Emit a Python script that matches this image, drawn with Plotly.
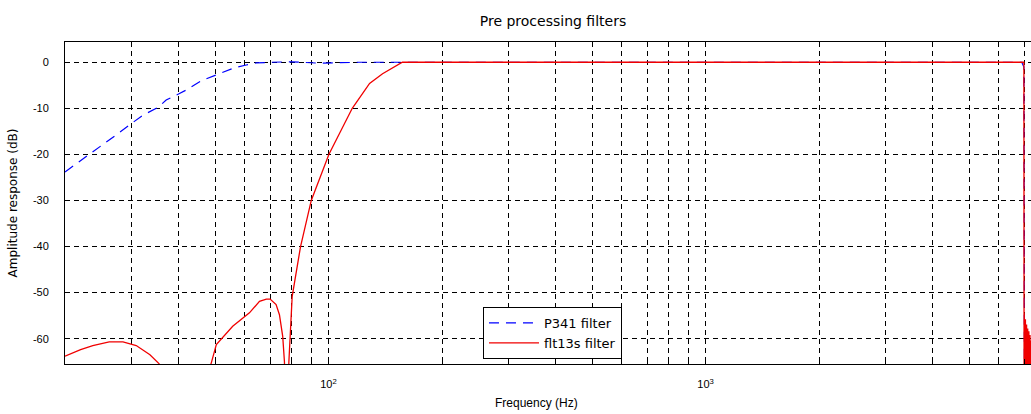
import plotly.graph_objects as go

# ---------------- data ----------------
blue_name = "P341 filter"
red_name = "flt13s filter"

blue_freq = [20, 22, 25, 27.3, 30, 32.2, 35.3, 37.1, 40, 42, 46, 49, 53.6, 56.3, 60.5, 64.3,
             70, 80, 95, 120, 200, 1000, 6900, 6990, 7000, 7020]
blue_db = [-23.8, -21.4, -18.2, -15.8, -13.3, -11.5, -9.8, -8.2, -6.9, -6.0, -4.0, -3.1, -1.9, -1.2, -0.6, -0.15,
           0.0, 0.1, -0.2, 0.0, 0.0, 0.0, 0.0, -1.0, -80.0, -90.0]

red_freq = [20, 22, 23.7, 26.2, 28.5, 30.9, 33.6, 35.5, 38, 42, 46, 48.9, 50.4, 55.7, 61.7, 65.6,
            68.4, 70.0, 72.6, 74.1, 75.6, 76.4, 77.4, 78.5, 80.1, 82.4, 84.3, 90.0, 100.2, 115.6,
            128.5, 139.1, 149.6, 157, 170, 200, 500, 1000, 3000, 6900, 6990, 7000,
            7005, 7017, 7030, 7042, 7055, 7067, 7080, 7092, 7105, 7117, 7130, 7142, 7155, 7167,
            7180, 7192, 7205, 7217, 7230, 7242, 7255, 7267, 7280, 7292, 7305, 7317, 7330, 7342]
red_db = [-63.8, -62.4, -61.5, -60.7, -60.7, -61.5, -63.5, -65.4, -70, -85, -72, -65.2, -61.3, -57.3, -54.4, -51.9,
          -51.4, -51.4, -52.6, -54.8, -59.5, -65, -85, -65, -50.8, -45, -40, -30, -20, -10,
          -4.6, -2.5, -1.0, 0.0, 0.0, 0.0, 0.0, 0.0, 0.0, 0.0, 0.0, -90,
          -54.5, -90, -55.2, -90, -55.8, -90, -56.4, -90, -56.9, -90, -57.4, -90, -57.8, -90,
          -58.1, -90, -58.4, -90, -58.8, -90, -59.2, -90, -59.8, -90, -60.4, -90, -61.0, -90]

x_major_vals = [100, 1000]
x_major_text = ["10<sup>2</sup>", "10<sup>3</sup>"]
x_minor_vals = [30, 40, 50, 60, 70, 80, 90, 200, 300, 400, 500, 600, 700, 800, 900,
                2000, 3000, 4000, 5000, 6000, 7000]
y_tick_vals = [-60, -50, -40, -30, -20, -10, 0]
y_tick_text = ["-60", "-50", "-40", "-30", "-20", "-10", "0"]

title_text = "Pre processing filters"
x_label = "Frequency (Hz)"
y_label = "Amplitude response (dB)"

FONT = "Liberation Sans"
WIDE = "DejaVu Sans"
GRID_DASH = "5px,4px"

fig = go.Figure()
fig.add_trace(go.Scatter(x=blue_freq, y=blue_db, mode="lines", name=blue_name,
                         line=dict(color="#0000ff", width=1.2, dash="10px,7px")))
fig.add_trace(go.Scatter(x=red_freq, y=red_db, mode="lines", name=red_name,
                         line=dict(color="#f00000", width=1.3)))

fig.update_layout(
    width=1031, height=414,
    margin=dict(l=65, r=0, t=42, b=50),
    paper_bgcolor="white", plot_bgcolor="white",
    font=dict(family=FONT, size=11, color="black"),
    title=dict(text=title_text, x=553 / 1031, xref="container", xanchor="center",
               y=1 - 21 / 414, yref="container", yanchor="middle",
               font=dict(family=WIDE, size=14, color="black")),
    showlegend=True,
    legend=dict(x=0.4327, y=0.177, xanchor="left", yanchor="top",
                bgcolor="white", bordercolor="black", borderwidth=1,
                font=dict(family=WIDE, size=13, color="black"),
                itemwidth=50, tracegroupgap=0),
    xaxis=dict(type="log", range=[1.30103, 3.8633],
               tickmode="array", tickvals=x_major_vals, ticktext=x_major_text,
               showgrid=True, gridcolor="black", gridwidth=1, griddash=GRID_DASH,
               showline=True, linecolor="black", linewidth=1, mirror="ticks",
               ticks="inside", ticklen=5, tickcolor="black",
               ticklabelstandoff=10,
               tickfont=dict(family=FONT, size=11, color="black"),
               minor=dict(tickmode="array", tickvals=x_minor_vals, ticks="inside", ticklen=5,
                          tickcolor="black", showgrid=True, gridcolor="black", gridwidth=1,
                          griddash=GRID_DASH),
               zeroline=False, automargin=False),
    yaxis=dict(range=[-65.5, 4.4],
               tickmode="array", tickvals=y_tick_vals, ticktext=y_tick_text,
               showgrid=True, gridcolor="black", gridwidth=1, griddash=GRID_DASH,
               showline=True, linecolor="black", linewidth=1, mirror=False,
               ticks="inside", ticklen=5, tickcolor="black",
               tickfont=dict(family=FONT, size=11, color="black"),
               ticklabelstandoff=13,
               title=dict(text=y_label, standoff=12, font=dict(family=WIDE, size=12, color="black")),
               zeroline=False, automargin=False),
    annotations=[dict(text=x_label, xref="paper", yref="paper", x=(536 - 65) / 966, y=-0.121,
                      xanchor="center", yanchor="middle", showarrow=False,
                      font=dict(family=FONT, size=12, color="black"))],
)

# remove the default 8px page margin so the figure sits exactly in the 1031x414 window
fig.write_html("out.html",
               config={"displayModeBar": False},
               post_script="document.body.style.margin='0px';document.body.style.overflow='hidden';")
